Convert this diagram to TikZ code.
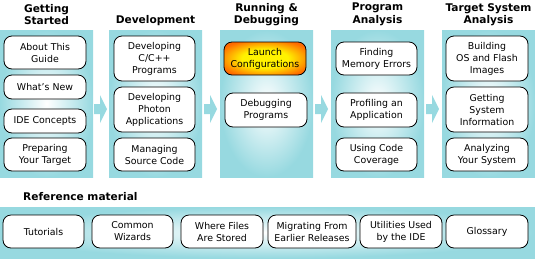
\documentclass[tikz,border=0pt]{standalone}
\usepackage{fontspec}
\setmainfont{DejaVu Sans}
\usetikzlibrary{calc}
\definecolor{ideCyan}{HTML}{97D9E0}
\definecolor{ideOrange}{HTML}{FF6A00}
\definecolor{ideYellow}{HTML}{FFF200}
\definecolor{ideInk}{HTML}{000000}
\pgfdeclareradialshading{idehotglow}{\pgfpoint{0bp}{0bp}}{%
  color(0bp)=(ideYellow); color(14bp)=(ideYellow);
  color(30bp)=(ideOrange); color(50bp)=(ideOrange)}
\tikzset{
  idepanel/.style={
    rectangle, inner sep=0pt, shade, inner color=white, outer color=ideCyan,
    minimum width=93pt, minimum height=147pt
  },
  idebox/.style={
    rectangle, rounded corners=8pt, draw=ideInk, line width=0.8pt,
    fill=white, text=ideInk, font=\fontsize{9.4}{12}\selectfont,
    align=center, inner sep=1pt, minimum width=82pt, minimum height=24pt
  },
  idehot/.style={
    idebox, shading=idehotglow
  },
  idetitle/.style={
    font=\bfseries\fontsize{10.6}{12.5}\selectfont, text=ideInk,
    align=center, inner sep=0pt
  },
  idearrow/.style={fill=ideCyan, draw=none}
}

\begin{document}
\begin{tikzpicture}[x=1pt, y=-1pt]
\useasboundingbox (0,0) rectangle (535,258);

% Paneles de las etapas
\node[idepanel] (gs)   at (46.5,103.5)  {};
\node[idepanel] (dev)  at (155.5,103.5) {};
\node[idepanel] (run)  at (266.5,103.5) {};
\node[idepanel] (prog) at (377.5,103.5) {};
\node[idepanel] (tsa)  at (488.5,103.5) {};

% Titulos
\node[idetitle] (gsT)   at (46.5,14.5)  {Getting\\Started};
\node[idetitle] (devT)  at (155.5,20.5) {Development};
\node[idetitle] (runT)  at (266.5,14.5) {Running \&\\Debugging};
\node[idetitle] (progT) at (377.5,14.5) {Program\\Analysis};
\node[idetitle] (tsaT)  at (488.5,14.5) {Target System\\Analysis};

% Flechas entre paneles
\foreach \a/\b in {gs/dev, dev/run, run/prog, prog/tsa}
  \fill[idearrow] ($(\a.east)!0.5!(\b.west)$) ++(-7,0.5) -- ++(6,0) -- ++(0,-9)
    -- ++(7,14) -- ++(-7,14) -- ++(0,-9) -- ++(-6,0) -- cycle;

% Getting Started
\node[idebox, minimum height=33pt] (gs1) at (45,52.5)  {About This\\Guide};
\node[idebox]                      (gs2) at (45,87)    {What's New};
\node[idebox]                      (gs3) at (45,121)   {IDE Concepts};
\node[idebox, minimum height=33pt] (gs4) at (45,154.5) {Preparing\\Your Target};

% Development
\node[idebox, minimum width=81pt, minimum height=45pt] (dev1) at (154.5,58.5)  {Developing\\C/C++\\Programs};
\node[idebox, minimum width=81pt, minimum height=45pt] (dev2) at (154.5,109.5) {Developing\\Photon\\Applications};
\node[idebox, minimum width=81pt, minimum height=33pt] (dev3) at (154.5,154.5) {Managing\\Source Code};

% Running & Debugging
\node[idehot, minimum height=33pt] (run1) at (265,58.5) {Launch\\Configurations};
\node[idebox, minimum height=34pt] (run2) at (266,110)  {Debugging\\Programs};

% Program Analysis
\node[idebox, minimum width=81pt, minimum height=33pt] (prog1) at (376.5,58.5)  {Finding\\Memory Errors};
\node[idebox, minimum width=81pt, minimum height=34pt] (prog2) at (376.5,110)   {Profiling an\\Application};
\node[idebox, minimum width=81pt, minimum height=33pt] (prog3) at (376.5,154.5) {Using Code\\Coverage};

% Target System Analysis
\node[idebox, minimum height=45pt] (tsa1) at (487,58.5)  {Building\\OS and Flash\\Images};
\node[idebox, minimum height=45pt] (tsa2) at (487,109.5) {Getting\\System\\Information};
\node[idebox, minimum height=33pt] (tsa3) at (487,154.5) {Analyzing\\Your System};

% Material de referencia
\node[idetitle, anchor=west] (refT) at (23,197) {Reference material};
\node[idepanel, minimum width=535pt, minimum height=51pt] (ref) at (267.5,232.5) {};
\node[idebox, minimum width=81pt, minimum height=33pt] (ref1) at (43.5,231.5) {Tutorials};
\node[idebox, minimum width=81pt, minimum height=33pt] (ref2) at (132.5,231.5) {Common\\Wizards};
\node[idebox, minimum width=82pt, minimum height=33pt] (ref3) at (222,231.5) {Where Files\\Are Stored};
\node[idebox, minimum width=88pt, minimum height=33pt] (ref4) at (312,231.5) {Migrating From\\Earlier Releases};
\node[idebox, minimum width=82pt, minimum height=33pt] (ref5) at (401,231.5) {Utilities Used\\by the IDE};
\node[idebox, minimum width=82pt, minimum height=33pt] (ref6) at (487,231.5) {Glossary};

\end{tikzpicture}
\end{document}
